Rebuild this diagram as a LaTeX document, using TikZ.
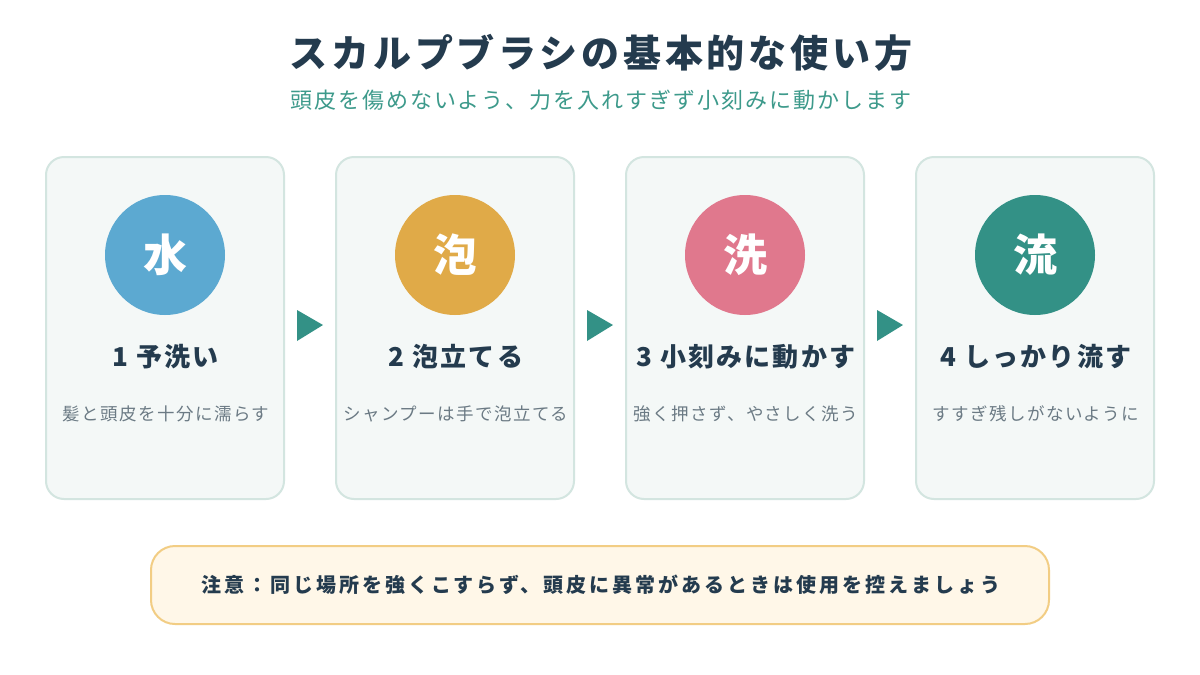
\documentclass[tikz,border=0pt]{standalone}
\usepackage{fontspec}
\setmainfont{Noto Sans CJK JP}
\definecolor{navy}{HTML}{243B4E}
\definecolor{subteal}{HTML}{3D9A8B}
\definecolor{descgrey}{HTML}{6B7A84}
\definecolor{cardfill}{HTML}{F4F8F7}
\definecolor{cardline}{HTML}{D3E5E0}
\definecolor{cblue}{HTML}{5CA9D1}
\definecolor{corange}{HTML}{E0AA48}
\definecolor{cpink}{HTML}{E0788D}
\definecolor{cteal}{HTML}{339186}
\definecolor{notefill}{HTML}{FFF7E8}
\definecolor{noteline}{HTML}{F2CD84}
\tikzset{
  card/.style={draw=cardline, line width=2pt, fill=cardfill, rounded corners=18pt},
  badge/.style={circle, fill=#1, minimum size=120pt, inner sep=0pt, text=white,
    font=\fontsize{44}{48}\selectfont\bfseries},
  steptitle/.style={inner sep=0pt, text=navy, font=\fontsize{26}{30}\selectfont\bfseries\addfontfeature{LetterSpace=8}},
  stepdesc/.style={inner sep=0pt, text=descgrey, font=\fontsize{17.5}{20}\selectfont\addfontfeature{LetterSpace=8}},
  flowarrow/.style={fill=cteal, draw=none},
}
\begin{document}
\begin{tikzpicture}[x=1pt,y=-1pt]
\useasboundingbox (0,0) rectangle (1200,675);
\fill[white] (0,0) rectangle (1200,675);
% title
\node[inner sep=0pt, text=navy, font=\fontsize{38}{44}\selectfont\bfseries\addfontfeature{LetterSpace=10}] (title) at (601,53) {スカルプブラシの基本的な使い方};
\node[inner sep=0pt, text=subteal, font=\fontsize{22}{26}\selectfont\addfontfeature{LetterSpace=9}] (subtitle) at (601,100) {頭皮を傷めないよう、力を入れすぎず小刻みに動かします};
% cards
\foreach \i/\c/\k/\t/\d in {0/cblue/水/1 予洗い/髪と頭皮を十分に濡らす,
                            1/corange/泡/2 泡立てる/シャンプーは手で泡立てる,
                            2/cpink/洗/3 小刻みに動かす/強く押さず、やさしく洗う,
                            3/cteal/流/4 しっかり流す/すすぎ残しがないように}{
  \path[card] (46+290*\i,157) rectangle (284+290*\i,499);
  \node[badge=\c] (badge\i) at (165+290*\i,255) {\k};
  \node[steptitle] (stitle\i) at (166+290*\i,357) {\t};
  \node[stepdesc] (sdesc\i) at (166+290*\i,414) {\d};
}
% arrows
\foreach \i in {0,1,2}{
  \coordinate (ab\i) at (297+290*\i,325);
  \fill[flowarrow] (297+290*\i,310) -- (323+290*\i,325) -- (297+290*\i,341) -- cycle;
}
% note
\path[draw=noteline, line width=2pt, fill=notefill, rounded corners=24pt] (151,546) rectangle (1049,624);
\node[inner sep=0pt, text=navy, font=\fontsize{20}{24}\selectfont\bfseries\addfontfeature{LetterSpace=15}] (note) at (601,585) {注意：同じ場所を強くこすらず、頭皮に異常があるときは使用を控えましょう};
\end{tikzpicture}
\end{document}
